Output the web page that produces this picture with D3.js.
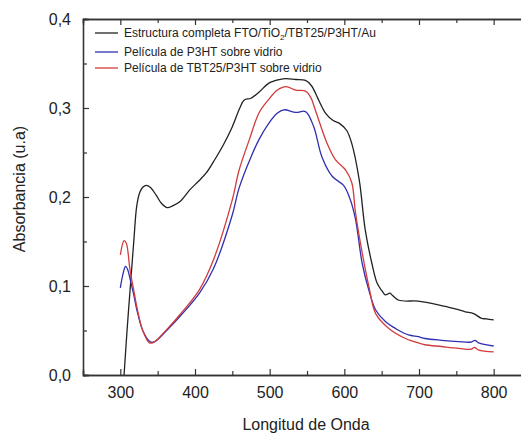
<!DOCTYPE html>
<html>
<head>
<meta charset="utf-8">
<script src="https://cdn.jsdelivr.net/npm/d3@7"></script>
<style>
  body { margin: 0; background: #fff; }
  text { font-family: "Liberation Sans", Arial, sans-serif; fill: #222; }
</style>
</head>
<body>
<svg id="chart" width="521" height="433"></svg>
<script>
// wavelength (nm) / absorbance pairs
const estructuraWl = [305, 309, 313, 318, 322, 326, 330, 335, 340, 348, 355, 363, 370, 380, 393, 405, 415, 425, 437, 450, 460, 466, 475, 486, 499, 513, 522, 535, 548, 556, 565, 575, 585, 593, 603, 610, 620, 628, 637, 644, 650, 655, 661, 665, 673, 699, 720, 735, 750, 762, 773, 783, 790, 800];
const estructuraAbs = [0.0, 0.05, 0.095, 0.15, 0.19, 0.205, 0.211, 0.213, 0.211, 0.202, 0.193, 0.188, 0.19, 0.195, 0.208, 0.218, 0.227, 0.24, 0.257, 0.279, 0.3, 0.309, 0.311, 0.318, 0.328, 0.332, 0.333, 0.332, 0.331, 0.325, 0.31, 0.294, 0.286, 0.283, 0.275, 0.26, 0.219, 0.163, 0.125, 0.103, 0.095, 0.09, 0.092, 0.089, 0.084, 0.083, 0.08, 0.077, 0.074, 0.071, 0.069, 0.064, 0.063, 0.062];

const p3htWl = [300, 304, 307, 310, 313, 318, 323, 330, 339, 345, 362, 380, 406, 425, 450, 459, 475, 486, 499, 510, 519, 535, 548, 559, 570, 584, 599, 608, 615, 624, 633, 642, 655, 669, 686, 699, 708, 730, 753, 770, 775, 780, 800];
const p3htAbs = [0.098, 0.115, 0.122, 0.118, 0.108, 0.09, 0.07, 0.05, 0.038, 0.037, 0.05, 0.066, 0.092, 0.12, 0.18, 0.21, 0.245, 0.265, 0.283, 0.294, 0.298, 0.295, 0.296, 0.279, 0.245, 0.223, 0.213, 0.197, 0.175, 0.125, 0.095, 0.073, 0.06, 0.052, 0.045, 0.043, 0.041, 0.039, 0.0375, 0.037, 0.039, 0.036, 0.0326];

const tbtWl = [300, 305, 308, 313, 318, 323, 330, 339, 345, 362, 380, 406, 425, 450, 459, 473, 486, 499, 510, 522, 535, 548, 555, 561, 577, 588, 602, 610, 615, 624, 633, 642, 660, 682, 699, 708, 730, 753, 770, 774, 780, 800];
const tbtAbs = [0.135, 0.151, 0.148, 0.118, 0.095, 0.073, 0.05, 0.036, 0.037, 0.051, 0.068, 0.096, 0.13, 0.197, 0.23, 0.265, 0.295, 0.31, 0.32, 0.324, 0.32, 0.319, 0.312, 0.298, 0.26, 0.242, 0.23, 0.216, 0.182, 0.137, 0.099, 0.069, 0.052, 0.041, 0.036, 0.034, 0.032, 0.03, 0.029, 0.031, 0.028, 0.026];

const xMajor = [300, 400, 500, 600, 700, 800];
const xMinor = [250, 350, 450, 550, 650, 750, 850];
const yMajor = [0.0, 0.1, 0.2, 0.3, 0.4];
const yMinor = [0.05, 0.15, 0.25, 0.35];

const seriesNames = ["Estructura completa FTO/TiO", "Película de P3HT sobre vidrio", "Película de TBT25/P3HT sobre vidrio"];
const seriesColors = ["#222222", "#2f2fb0", "#d23b3b"];

const svg = d3.select("#chart");
const margin = { left: 83, top: 19, right: 531, bottom: 375 };

const x = d3.scaleLinear().domain([250, 850]).range([margin.left, margin.right]);
const y = d3.scaleLinear().domain([0, 0.4]).range([margin.bottom, margin.top]);
const fmt = d => d3.format(".1f")(d).replace(".", ",");

// curves
const line = d3.line().x(d => x(d[0])).y(d => y(d[1])).curve(d3.curveCatmullRom.alpha(0.5));
const series = [
    d3.zip(estructuraWl, estructuraAbs),
    d3.zip(p3htWl, p3htAbs),
    d3.zip(tbtWl, tbtAbs)
];
// draw order: black, blue, red on top
series.forEach((s, i) => {
    svg.append("path")
        .datum(s)
        .attr("d", line)
        .attr("fill", "none")
        .attr("stroke", seriesColors[i])
        .attr("stroke-width", 1.3);
});

// axes, ticks point inward
const axisStyle = g => {
    g.select(".domain").attr("stroke", "#333").attr("stroke-width", 1.3);
    g.selectAll(".tick line").attr("stroke", "#333").attr("stroke-width", 1.2);
};

svg.append("g").attr("transform", `translate(0,${margin.bottom})`)
    .call(d3.axisBottom(x).tickValues(xMajor).tickSize(-6).tickPadding(12).tickFormat(d3.format("d")))
    .call(axisStyle)
    .call(g => g.selectAll("text").attr("font-size", 16).attr("fill", "#222"));
svg.append("g").attr("transform", `translate(0,${margin.bottom})`)
    .call(d3.axisBottom(x).tickValues(xMinor).tickSize(-4).tickFormat(""))
    .call(axisStyle);
svg.append("g").attr("transform", `translate(0,${margin.top})`)
    .call(d3.axisTop(x).tickValues(xMajor).tickSize(-6).tickFormat(""))
    .call(axisStyle);
svg.append("g").attr("transform", `translate(0,${margin.top})`)
    .call(d3.axisTop(x).tickValues(xMinor).tickSize(-4).tickFormat(""))
    .call(axisStyle);

svg.append("g").attr("transform", `translate(${margin.left},0)`)
    .call(d3.axisLeft(y).tickValues(yMajor).tickSize(-6).tickPadding(12).tickFormat(fmt))
    .call(axisStyle)
    .call(g => g.selectAll("text").attr("font-size", 16).attr("fill", "#222"));
svg.append("g").attr("transform", `translate(${margin.left},0)`)
    .call(d3.axisLeft(y).tickValues(yMinor).tickSize(-4).tickFormat(""))
    .call(axisStyle);
svg.append("g").attr("transform", `translate(${margin.right},0)`)
    .call(d3.axisRight(y).tickValues(yMajor).tickSize(-6).tickFormat(""))
    .call(axisStyle);

// axis titles
svg.append("text")
    .attr("x", 306).attr("y", 430)
    .attr("text-anchor", "middle")
    .attr("font-size", 16)
    .text("Longitud de Onda");
svg.append("text")
    .attr("transform", "translate(25,189) rotate(-90)")
    .attr("text-anchor", "middle")
    .attr("font-size", 16)
    .text("Absorbancia (u.a)");

// legend
const legendY = [33, 52, 68];
const legend = svg.append("g");
seriesNames.forEach((name, i) => {
    legend.append("line")
        .attr("x1", 95).attr("x2", 118)
        .attr("y1", legendY[i]).attr("y2", legendY[i])
        .attr("stroke", seriesColors[i]).attr("stroke-width", 1.3);
    const t = legend.append("text")
        .attr("x", 124).attr("y", legendY[i] + 4)
        .attr("font-size", 12)
        .text(name);
    if (i === 0) {
        t.append("tspan").attr("font-size", 8).attr("dy", 3).text("2");
        t.append("tspan").attr("dy", -3).text("/TBT25/P3HT/Au");
    }
});
</script>
</body>
</html>
